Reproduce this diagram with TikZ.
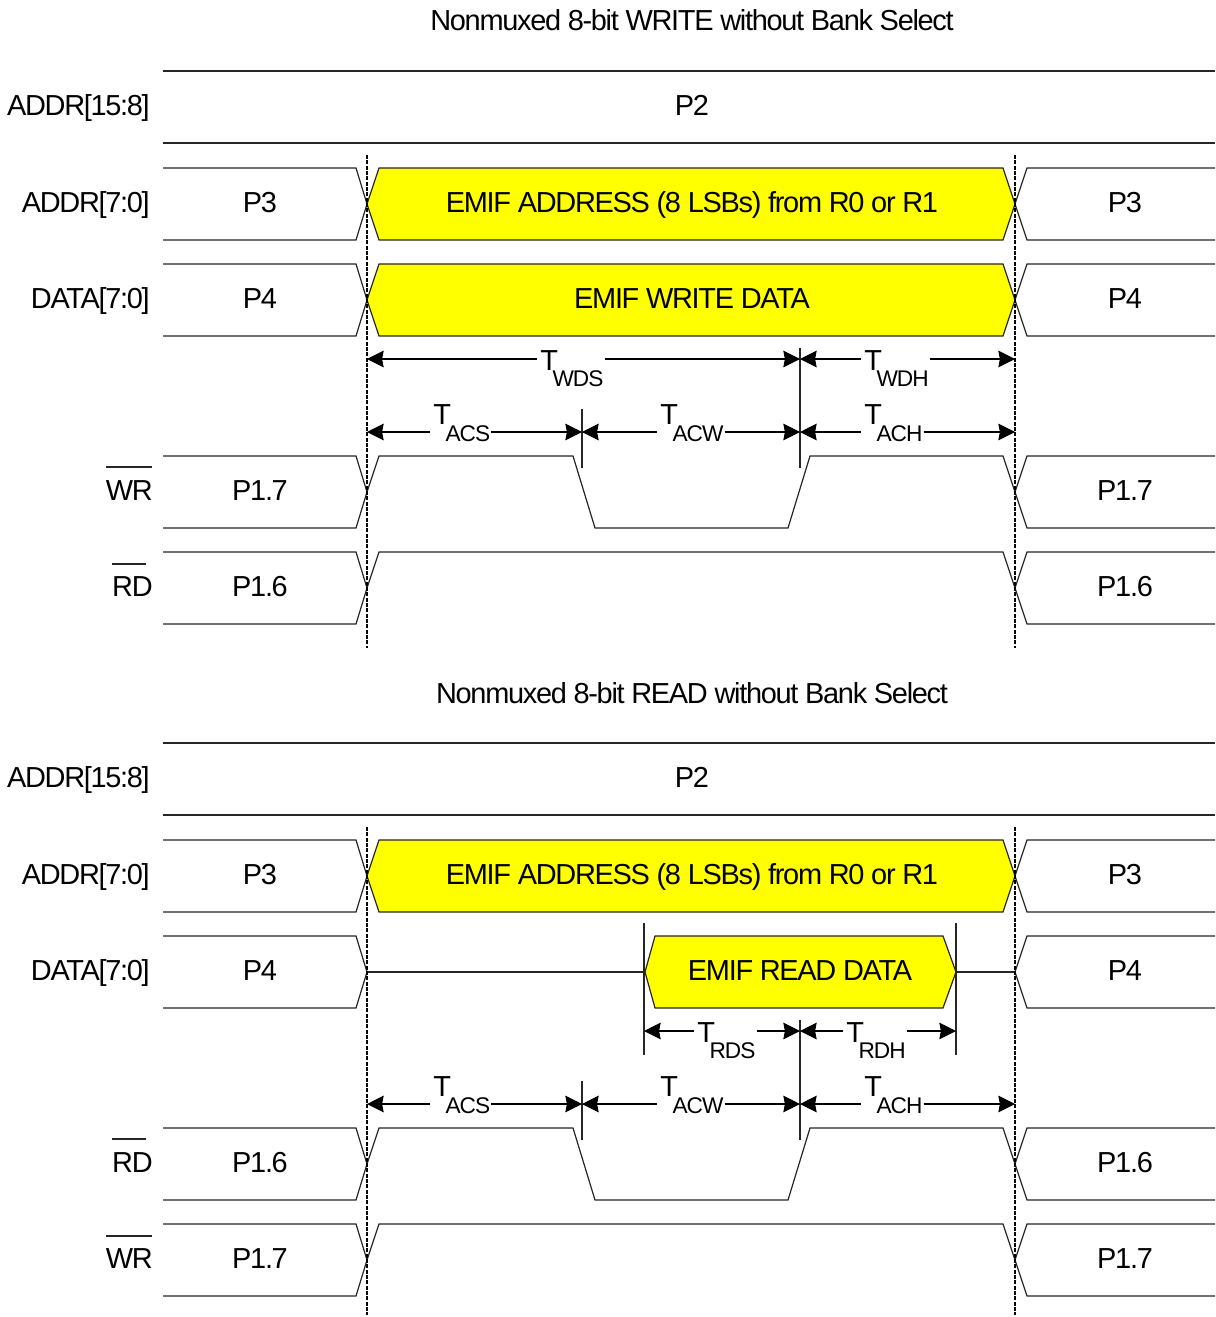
\documentclass[tikz,border=0pt]{standalone}
\usepackage{fontspec}
\setmainfont[LetterSpace=-4.5]{Liberation Sans}
\usetikzlibrary{arrows.meta}
\definecolor{busyellow}{RGB}{255,255,0}
\newcommand\bigtxt{\fontsize{21.7pt}{24pt}\selectfont}
\newcommand\subtxt{\fontsize{17pt}{18pt}\selectfont}
\tikzset{
  wave/.style={draw=black!85,line width=0.9pt,line join=miter},
  busfill/.style={wave,fill=busyellow},
  txt/.style={inner sep=0pt,font=\bigtxt,text=black,anchor=base},
  sig/.style={txt,anchor=base east},
  dim/.style={draw=black,line width=0.8pt},
  dimtip/.style={-{Stealth[length=12.5pt,width=12.5pt,inset=1.2pt]}},
  guide/.style={draw=black,line width=1.8pt,dash pattern=on 3pt off 1pt},
  tick/.style={draw=black!85,line width=0.9pt},
  tlab/.style={inner sep=0pt,font=\bigtxt,anchor=base west},
  bar/.style={draw=black!85,line width=0.9pt},
}
\newcommand\sigrow[5]{%
  \begin{scope}[shift={(0,#1)}]
    \draw[wave] (163,-36)--(356,-36)--(367,0)--(356,36)--(163,36);
    \draw[wave] (1215,-36)--(1027,-36)--(1015,0)--(1027,36)--(1215,36);
    \node[sig] (#2sig) at (#5,8) {#3};
    \node[txt] (#2l) at (260,8) {#4};
    \node[txt] (#2r) at (1125,8) {#4};
  \end{scope}}
% #1 name, #2 left x, #3 right x, #4 row y, #5 T x, #6 sub text, #7 T baseline offset, #8 sub drop
\newcommand\dimlab[8]{%
  \coordinate (#1a) at (#2,#4);
  \coordinate (#1b) at (#3,#4);
  \node[tlab] (#1) at (#5,#4+#7) {T\kern-4pt\raisebox{#8}{\subtxt #6}};
  \draw[dim,dimtip] (#1a -| #1.west) ++(-3,0) -- (#1a);
  \draw[dim,dimtip] (#1b -| #1.east) ++(1,0) -- (#1b);}
\newcommand\addrrows{%
  \draw[wave] (163,71)--(1215,71);
  \draw[wave] (163,143)--(1215,143);
  \node[sig] (hsig) at (150,115) {ADDR[15:8]};
  \node[txt] (hval) at (692,115) {P2};
  \sigrow{204}{a}{ADDR[7:0]}{P3}{150}
  \draw[busfill] (367,204)--(379,168)--(1003,168)--(1015,204)--(1003,240)--(379,240)--cycle;
  \node[txt] (abus) at (692,212) {EMIF ADDRESS (8 LSBs) from R0 or R1};}
\newcommand\pulsewave{\draw[wave] (367,492)--(379,456)--(573,456)--(595,528)--(788,528)--(810,456)--(1003,456)--(1015,492);}
\newcommand\idlewave{\draw[wave] (367,588)--(379,552)--(1003,552)--(1015,588);}
\begin{document}
\begin{tikzpicture}[x=0.75pt,y=-0.75pt]
\useasboundingbox (0,0) rectangle (1215,1317);
\fill[white] (0,0) rectangle (1215,1317);
% ---------- WRITE ----------
\node[txt] (t1) at (692,31) {Nonmuxed 8-bit WRITE without Bank Select};
\addrrows
\sigrow{300}{d}{DATA[7:0]}{P4}{150}
\draw[busfill] (367,300)--(379,264)--(1003,264)--(1015,300)--(1003,336)--(379,336)--cycle;
\node[txt] (dbus) at (692,308) {EMIF WRITE DATA};
\sigrow{492}{w}{WR}{P1.7}{153}
\draw[bar] (wsig.north west |- 0,467) -- ++(46,0);
\pulsewave
\sigrow{588}{r}{RD}{P1.6}{153}
\draw[bar] (rsig.north west |- 0,564) -- ++(34,0);
\idlewave
\coordinate (g1t) at (367,155); \coordinate (g1b) at (367,648);
\coordinate (g2t) at (1015,155); \coordinate (g2b) at (1015,648);
\draw[guide] (g1t)--(g1b); \draw[guide] (g2t)--(g2b);
\coordinate (k1t) at (582,409); \coordinate (k1b) at (582,468);
\coordinate (k2t) at (800,348); \coordinate (k2b) at (800,468);
\draw[tick] (k1t)--(k1b); \draw[tick] (k2t)--(k2b);
\dimlab{wds}{367}{800}{359}{540}{WDS}{11}{-12pt}
\dimlab{wdh}{800}{1015}{359}{864}{WDH}{11}{-12pt}
\dimlab{acs}{367}{582}{432}{433}{ACS}{-8}{-13pt}
\dimlab{acw}{582}{800}{432}{660}{ACW}{-8}{-13pt}
\dimlab{ach}{800}{1015}{432}{864}{ACH}{-8}{-13pt}
% ---------- READ ----------
\node[txt] (t2) at (692,703) {Nonmuxed 8-bit READ without Bank Select};
\begin{scope}[shift={(0,672)},name prefix=b]
\addrrows
\sigrow{300}{d}{DATA[7:0]}{P4}{150}
\draw[wave] (367,300)--(645,300);
\draw[wave] (956,300)--(1015,300);
\draw[busfill] (645,300)--(655,264)--(943,264)--(956,300)--(943,336)--(655,336)--cycle;
\node[txt] (dbus) at (800,308) {EMIF READ DATA};
\sigrow{492}{w}{RD}{P1.6}{153}
\draw[bar] (wsig.north west |- 0,467) -- ++(34,0);
\pulsewave
\sigrow{588}{r}{WR}{P1.7}{153}
\draw[bar] (rsig.north west |- 0,564) -- ++(46,0);
\idlewave
\coordinate (g1t) at (367,155); \coordinate (g1b) at (367,643);
\coordinate (g2t) at (1015,155); \coordinate (g2b) at (1015,643);
\draw[guide] (g1t)--(g1b); \draw[guide] (g2t)--(g2b);
\coordinate (k1t) at (582,409); \coordinate (k1b) at (582,468);
\coordinate (k2t) at (800,348); \coordinate (k2b) at (800,468);
\coordinate (k3t) at (644,251); \coordinate (k3b) at (644,383);
\coordinate (k4t) at (956,251); \coordinate (k4b) at (956,383);
\draw[tick] (k1t)--(k1b); \draw[tick] (k2t)--(k2b);
\draw[tick] (k3t)--(k3b); \draw[tick] (k4t)--(k4b);
\end{scope}
\begin{scope}[shift={(0,672)}]
\dimlab{rds}{644}{800}{359}{697}{RDS}{11}{-12pt}
\dimlab{rdh}{800}{956}{359}{846}{RDH}{11}{-12pt}
\dimlab{racs}{367}{582}{432}{433}{ACS}{-8}{-13pt}
\dimlab{racw}{582}{800}{432}{660}{ACW}{-8}{-13pt}
\dimlab{rach}{800}{1015}{432}{864}{ACH}{-8}{-13pt}
\end{scope}
\end{tikzpicture}
\end{document}
